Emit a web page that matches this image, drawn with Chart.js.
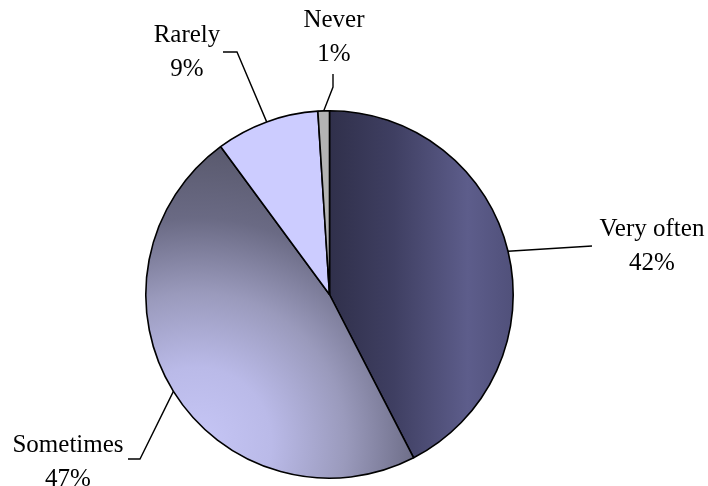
<!DOCTYPE html>
<html>
<head>
<meta charset="utf-8">
<script src="https://cdn.jsdelivr.net/npm/chart.js"></script>
<style>
  html, body { margin: 0; padding: 0; background: #fff; }
  #wrap { width: 708px; height: 486px; }
</style>
</head>
<body>
<div id="wrap"><canvas id="pie"></canvas></div>
<script>
// data
const categories = ['Very often', 'Sometimes', 'Rarely', 'Never'];
const percents = [42, 47, 9, 1];

// where each label sits: text centre, then the leader line's elbow and end
const labelSpots = [
  { x: 652, y: 229, elbow: [592, 246], end: [592, 246] },
  { x: 68, y: 445, elbow: [140, 459], end: [128, 459] },
  { x: 187, y: 35, elbow: [237, 52], end: [223, 52] },
  { x: 334, y: 20, elbow: [333, 87], end: [333, 74] }
];

function sliceFill(ctx) {
  const chart = ctx.chart;
  const c = chart.ctx;
  const area = chart.chartArea;
  if (!area) return '#888';
  const cx = (area.left + area.right) / 2;
  const cy = (area.top + area.bottom) / 2;
  const r = Math.min(area.right - area.left, area.bottom - area.top) / 2;
  if (ctx.dataIndex === 0) {
    const g = c.createLinearGradient(cx, 0, cx + r, 0);
    g.addColorStop(0, '#30304b');
    g.addColorStop(0.35, '#3f3f62');
    g.addColorStop(0.75, '#5d5d8b');
    g.addColorStop(1, '#50507a');
    return g;
  }
  if (ctx.dataIndex === 1) {
    const gx = cx - r * 0.72, gy = cy + r * 0.8;
    const g = c.createRadialGradient(gx, gy, 0, gx, gy, r * 1.62);
    g.addColorStop(0, '#c6c6f6');
    g.addColorStop(0.25, '#babae8');
    g.addColorStop(0.5, '#9a9abc');
    g.addColorStop(0.75, '#6a6a84');
    g.addColorStop(1, '#58586c');
    return g;
  }
  if (ctx.dataIndex === 2) return '#ccccff';
  return '#b4b4b4';
}

const labelPlugin = {
  id: 'sliceLabels',
  afterDatasetsDraw(chart) {
    const c = chart.ctx;
    const arcs = chart.getDatasetMeta(0).data;
    c.save();
    c.strokeStyle = '#000';
    c.lineWidth = 1.4;
    c.fillStyle = '#000';
    c.font = '25px "Liberation Serif", "Times New Roman", serif';
    c.textAlign = 'center';
    c.textBaseline = 'middle';
    arcs.forEach((arc, i) => {
      const spot = labelSpots[i];
      const mid = (arc.startAngle + arc.endAngle) / 2;
      const sx = arc.x + Math.cos(mid) * arc.outerRadius;
      const sy = arc.y + Math.sin(mid) * arc.outerRadius;
      c.beginPath();
      c.moveTo(sx, sy);
      c.lineTo(spot.elbow[0], spot.elbow[1]);
      c.lineTo(spot.end[0], spot.end[1]);
      c.stroke();
      c.fillText(categories[i], spot.x, spot.y);
      c.fillText(percents[i] + '%', spot.x, spot.y + 34);
    });
    c.restore();
  }
};

new Chart(document.getElementById('pie'), {
  type: 'pie',
  data: {
    labels: categories,
    datasets: [{
      data: percents,
      backgroundColor: sliceFill,
      borderColor: '#000',
      borderWidth: 1.6
    }]
  },
  options: {
    responsive: true,
    maintainAspectRatio: false,
    animation: false,
    layout: { padding: { left: 145, right: 194, top: 110, bottom: 7 } },
    plugins: {
      legend: { display: false },
      tooltip: { enabled: false }
    }
  },
  plugins: [labelPlugin]
});
</script>
</body>
</html>
